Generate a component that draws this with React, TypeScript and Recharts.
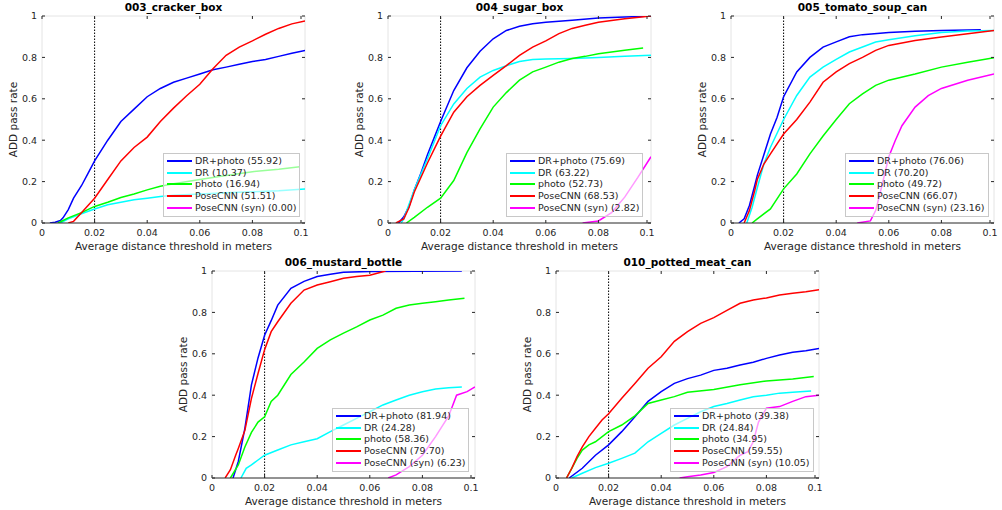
import React from 'react';
import { LineChart, Line, XAxis, YAxis, ReferenceLine, Legend } from 'recharts';

// object names and method legend labels
const OBJECTS = ['003_cracker_box', '004_sugar_box', '005_tomato_soup_can', '006_mustard_bottle', '010_potted_meat_can'];
const METHODS = ['DR+photo', 'DR', 'photo', 'PoseCNN', 'PoseCNN (syn)'];
const METHOD_COLORS = ['#0000ff', '#00ffff', '#00ff00', '#ff0000', '#ff00ff'];

// AUC scores shown in the legends, one list per object (same order as METHODS)
const SCORES_CRACKER = ['55.92', '10.37', '16.94', '51.51', '0.00'];
const SCORES_SUGAR = ['75.69', '63.22', '52.73', '68.53', '2.82'];
const SCORES_TOMATO = ['76.06', '70.20', '49.72', '66.07', '23.16'];
const SCORES_MUSTARD = ['81.94', '24.28', '58.36', '79.70', '6.23'];
const SCORES_POTTED = ['39.38', '24.84', '34.95', '59.55', '10.05'];

const THRESH_TICKS = [0, 0.02, 0.04, 0.06, 0.08, 0.1];
const RATE_TICKS = [0, 0.2, 0.4, 0.6, 0.8, 1];

// [threshold, pass rate]
const CRACKER_DR_PHOTO = [[0.003, 0], [0.005, 0.004], [0.007, 0.012], [0.008, 0.025], [0.01, 0.065], [0.012, 0.12], [0.015, 0.18], [0.0175, 0.24], [0.02, 0.3], [0.025, 0.4], [0.03, 0.49], [0.035, 0.55], [0.04, 0.61], [0.045, 0.65], [0.05, 0.68], [0.055, 0.7], [0.06, 0.72], [0.065, 0.74], [0.07, 0.753], [0.075, 0.767], [0.08, 0.78], [0.085, 0.79], [0.09, 0.805], [0.095, 0.82], [0.1, 0.834]];
const CRACKER_DR = [[0.007, 0], [0.01, 0.02], [0.015, 0.045], [0.02, 0.068], [0.025, 0.088], [0.03, 0.1], [0.035, 0.112], [0.04, 0.12], [0.045, 0.128], [0.05, 0.134], [0.06, 0.14], [0.07, 0.146], [0.08, 0.151], [0.09, 0.156], [0.1, 0.164]];
const CRACKER_PHOTO = [[0.006, 0], [0.008, 0.012], [0.01, 0.025], [0.015, 0.05], [0.02, 0.08], [0.025, 0.1], [0.03, 0.123], [0.035, 0.14], [0.04, 0.16], [0.045, 0.178], [0.05, 0.19], [0.06, 0.21], [0.07, 0.23], [0.08, 0.248], [0.09, 0.26], [0.098, 0.272]];
const CRACKER_POSECNN = [[0.01, 0], [0.012, 0.008], [0.015, 0.05], [0.0175, 0.085], [0.02, 0.12], [0.025, 0.21], [0.03, 0.3], [0.035, 0.365], [0.04, 0.415], [0.045, 0.49], [0.05, 0.555], [0.055, 0.615], [0.06, 0.67], [0.065, 0.745], [0.07, 0.81], [0.075, 0.85], [0.08, 0.88], [0.085, 0.912], [0.09, 0.94], [0.095, 0.962], [0.1, 0.976]];
const CRACKER_SYN: number[][] = [];

const SUGAR_DR_PHOTO = [[0.004, 0], [0.006, 0.03], [0.008, 0.08], [0.01, 0.16], [0.0125, 0.24], [0.015, 0.33], [0.0175, 0.41], [0.02, 0.49], [0.025, 0.64], [0.03, 0.75], [0.035, 0.83], [0.04, 0.89], [0.045, 0.93], [0.05, 0.95], [0.055, 0.963], [0.06, 0.97], [0.07, 0.98], [0.08, 0.99], [0.09, 0.995], [0.1, 1]];
const SUGAR_DR = [[0.005, 0], [0.006, 0.02], [0.008, 0.09], [0.01, 0.16], [0.015, 0.31], [0.02, 0.47], [0.025, 0.575], [0.03, 0.65], [0.035, 0.705], [0.04, 0.737], [0.045, 0.76], [0.05, 0.78], [0.055, 0.79], [0.06, 0.792], [0.07, 0.795], [0.08, 0.8], [0.09, 0.805], [0.1, 0.81]];
const SUGAR_PHOTO = [[0.007, 0], [0.01, 0.027], [0.015, 0.076], [0.02, 0.12], [0.025, 0.205], [0.03, 0.34], [0.035, 0.455], [0.04, 0.56], [0.045, 0.63], [0.05, 0.69], [0.055, 0.73], [0.06, 0.753], [0.065, 0.777], [0.07, 0.795], [0.075, 0.805], [0.08, 0.818], [0.09, 0.834], [0.097, 0.845]];
const SUGAR_POSECNN = [[0.003, 0], [0.006, 0.02], [0.008, 0.075], [0.01, 0.15], [0.015, 0.29], [0.02, 0.42], [0.025, 0.535], [0.03, 0.61], [0.035, 0.665], [0.04, 0.713], [0.045, 0.76], [0.05, 0.81], [0.055, 0.85], [0.06, 0.88], [0.065, 0.915], [0.07, 0.94], [0.075, 0.955], [0.08, 0.97], [0.09, 0.987], [0.1, 1]];
const SUGAR_SYN = [[0.074, 0], [0.08, 0.01], [0.085, 0.05], [0.09, 0.125], [0.095, 0.22], [0.1, 0.32]];

const TOMATO_DR_PHOTO = [[0.003, 0], [0.005, 0.02], [0.007, 0.085], [0.009, 0.18], [0.01, 0.23], [0.0125, 0.33], [0.015, 0.43], [0.0175, 0.51], [0.02, 0.61], [0.025, 0.73], [0.03, 0.8], [0.035, 0.85], [0.04, 0.875], [0.045, 0.9], [0.05, 0.91], [0.06, 0.92], [0.07, 0.926], [0.08, 0.93], [0.095, 0.934]];
const TOMATO_DR = [[0.006, 0], [0.008, 0.075], [0.01, 0.17], [0.0125, 0.285], [0.015, 0.366], [0.02, 0.5], [0.025, 0.616], [0.03, 0.705], [0.035, 0.753], [0.04, 0.79], [0.045, 0.826], [0.05, 0.85], [0.055, 0.874], [0.06, 0.885], [0.07, 0.905], [0.08, 0.92], [0.09, 0.927], [0.1, 0.93]];
const TOMATO_PHOTO = [[0.008, 0], [0.01, 0.02], [0.015, 0.068], [0.02, 0.165], [0.025, 0.237], [0.03, 0.334], [0.035, 0.42], [0.04, 0.5], [0.045, 0.576], [0.05, 0.624], [0.055, 0.665], [0.06, 0.69], [0.07, 0.72], [0.08, 0.753], [0.09, 0.777], [0.1, 0.798]];
const TOMATO_POSECNN = [[0.005, 0], [0.007, 0.06], [0.009, 0.156], [0.01, 0.21], [0.0125, 0.285], [0.015, 0.334], [0.02, 0.43], [0.025, 0.5], [0.03, 0.584], [0.035, 0.68], [0.04, 0.73], [0.045, 0.77], [0.05, 0.8], [0.055, 0.834], [0.06, 0.858], [0.07, 0.882], [0.08, 0.898], [0.09, 0.914], [0.1, 0.93]];
const TOMATO_SYN = [[0.048, 0], [0.053, 0.01], [0.055, 0.06], [0.057, 0.16], [0.06, 0.32], [0.0625, 0.4], [0.065, 0.47], [0.07, 0.56], [0.075, 0.615], [0.08, 0.65], [0.09, 0.69], [0.1, 0.72]];

const MUSTARD_DR_PHOTO = [[0.008, 0], [0.009, 0.04], [0.01, 0.08], [0.0125, 0.24], [0.015, 0.45], [0.0175, 0.58], [0.02, 0.69], [0.0225, 0.76], [0.025, 0.835], [0.03, 0.916], [0.035, 0.95], [0.04, 0.973], [0.045, 0.984], [0.05, 0.994], [0.06, 0.998], [0.095, 1]];
const MUSTARD_DR = [[0.011, 0], [0.013, 0.047], [0.015, 0.063], [0.0175, 0.087], [0.02, 0.11], [0.025, 0.135], [0.03, 0.16], [0.035, 0.175], [0.04, 0.19], [0.045, 0.224], [0.05, 0.256], [0.055, 0.288], [0.06, 0.32], [0.065, 0.353], [0.07, 0.377], [0.075, 0.4], [0.08, 0.417], [0.085, 0.43], [0.09, 0.436], [0.095, 0.44]];
const MUSTARD_PHOTO = [[0.007, 0], [0.01, 0.063], [0.0125, 0.15], [0.015, 0.22], [0.0175, 0.27], [0.02, 0.296], [0.0225, 0.37], [0.025, 0.4], [0.03, 0.5], [0.035, 0.56], [0.04, 0.626], [0.045, 0.667], [0.05, 0.7], [0.055, 0.73], [0.06, 0.763], [0.065, 0.787], [0.07, 0.82], [0.075, 0.836], [0.08, 0.844], [0.085, 0.852], [0.09, 0.86], [0.096, 0.868]];
const MUSTARD_POSECNN = [[0.005, 0], [0.007, 0.04], [0.009, 0.11], [0.01, 0.143], [0.0125, 0.23], [0.015, 0.385], [0.0175, 0.505], [0.02, 0.62], [0.0225, 0.707], [0.025, 0.755], [0.03, 0.844], [0.035, 0.908], [0.04, 0.932], [0.045, 0.948], [0.05, 0.965], [0.055, 0.973], [0.06, 0.98], [0.066, 1]];
const MUSTARD_SYN = [[0.067, 0], [0.07, 0.015], [0.075, 0.055], [0.08, 0.11], [0.085, 0.2], [0.09, 0.3], [0.093, 0.4], [0.097, 0.417], [0.1, 0.44]];

const POTTED_DR_PHOTO = [[0.005, 0], [0.01, 0.047], [0.015, 0.11], [0.02, 0.16], [0.025, 0.224], [0.03, 0.296], [0.035, 0.37], [0.04, 0.417], [0.045, 0.457], [0.05, 0.48], [0.055, 0.497], [0.06, 0.52], [0.065, 0.53], [0.07, 0.546], [0.075, 0.559], [0.08, 0.578], [0.085, 0.594], [0.09, 0.607], [0.095, 0.615], [0.1, 0.626]];
const POTTED_DR = [[0.006, 0], [0.01, 0.023], [0.015, 0.05], [0.02, 0.071], [0.025, 0.095], [0.03, 0.12], [0.035, 0.175], [0.04, 0.216], [0.045, 0.256], [0.05, 0.288], [0.055, 0.32], [0.06, 0.345], [0.065, 0.36], [0.07, 0.377], [0.075, 0.393], [0.08, 0.4], [0.085, 0.41], [0.09, 0.414], [0.097, 0.42]];
const POTTED_PHOTO = [[0.004, 0], [0.006, 0.047], [0.008, 0.095], [0.01, 0.135], [0.0125, 0.16], [0.015, 0.175], [0.02, 0.224], [0.025, 0.256], [0.03, 0.3], [0.035, 0.36], [0.04, 0.377], [0.045, 0.393], [0.05, 0.414], [0.06, 0.428], [0.07, 0.45], [0.08, 0.469], [0.09, 0.478], [0.098, 0.49]];
const POTTED_POSECNN = [[0.004, 0], [0.006, 0.047], [0.008, 0.103], [0.01, 0.15], [0.0125, 0.2], [0.015, 0.24], [0.0175, 0.28], [0.02, 0.31], [0.025, 0.385], [0.03, 0.457], [0.035, 0.53], [0.04, 0.586], [0.045, 0.66], [0.05, 0.707], [0.055, 0.747], [0.06, 0.775], [0.065, 0.81], [0.07, 0.844], [0.075, 0.86], [0.08, 0.87], [0.085, 0.884], [0.09, 0.892], [0.095, 0.9], [0.1, 0.91]];
const POTTED_SYN = [[0.047, 0], [0.05, 0.006], [0.055, 0.015], [0.06, 0.027], [0.065, 0.055], [0.07, 0.11], [0.073, 0.127], [0.075, 0.175], [0.077, 0.27], [0.08, 0.337], [0.085, 0.345], [0.09, 0.37], [0.095, 0.393], [0.1, 0.4]];

const SERIES = [
    [CRACKER_DR_PHOTO, CRACKER_DR, CRACKER_PHOTO, CRACKER_POSECNN, CRACKER_SYN],
    [SUGAR_DR_PHOTO, SUGAR_DR, SUGAR_PHOTO, SUGAR_POSECNN, SUGAR_SYN],
    [TOMATO_DR_PHOTO, TOMATO_DR, TOMATO_PHOTO, TOMATO_POSECNN, TOMATO_SYN],
    [MUSTARD_DR_PHOTO, MUSTARD_DR, MUSTARD_PHOTO, MUSTARD_POSECNN, MUSTARD_SYN],
    [POTTED_DR_PHOTO, POTTED_DR, POTTED_PHOTO, POTTED_POSECNN, POTTED_SYN],
];
const SCORES = [SCORES_CRACKER, SCORES_SUGAR, SCORES_TOMATO, SCORES_MUSTARD, SCORES_POTTED];

// layout (pixels): where each axes box sits on the page
const PLOT_W = 263;
const PLOT_H = 207;
const PANEL_LEFT = [42, 388, 731, 212, 556];
const PANEL_TOP = [16, 16, 16, 271, 271];
const LEGEND_LEFT = [121, 118, 114, 120, 114];
const YW = 45;
const MT = 20;
const MR = 6;
const XH = 34;
const CW = YW + PLOT_W + MR;
const CH = MT + PLOT_H + XH;

const FONT = '"DejaVu Sans", sans-serif';
const INK = '#262626';

const fmt = (v: number) => String(v);

const XTick = (props: any) => {
    const { x, y, payload } = props;
    return (
        <g>
            <line x1={x} x2={x} y1={y} y2={y - 3} stroke={INK} />
            <line x1={x} x2={x} y1={y - PLOT_H} y2={y - PLOT_H + 3} stroke={INK} />
            <text x={x} y={y + 13} textAnchor="middle" fontSize={9.5} fontFamily={FONT} fill={INK}>
                {fmt(payload.value)}
            </text>
        </g>
    );
};

const YTick = (props: any) => {
    const { x, y, payload } = props;
    return (
        <g>
            <line x1={x} x2={x + 3} y1={y} y2={y} stroke={INK} />
            <line x1={x + PLOT_W - 3} x2={x + PLOT_W} y1={y} y2={y} stroke={INK} />
            <text x={x - 5} y={y} dy="0.35em" textAnchor="end" fontSize={9.5} fontFamily={FONT} fill={INK}>
                {fmt(payload.value)}
            </text>
        </g>
    );
};

const yLabel = () => (
    <text
        x={YW - 29}
        y={MT + PLOT_H / 2}
        transform={`rotate(-90, ${YW - 29}, ${MT + PLOT_H / 2})`}
        textAnchor="middle"
        dominantBaseline="central"
        fontSize={10.5}
        fontFamily={FONT}
        fill={INK}
    >
        ADD pass rate
    </text>
);

const xLabel = () => (
    <text x={YW + PLOT_W / 2} y={MT + PLOT_H + 27} textAnchor="middle" fontSize={10.5} fontFamily={FONT} fill={INK}>
        Average distance threshold in meters
    </text>
);

const LegendBox = ({ payload, labels }: { payload?: any[]; labels: string[] }) => {
    const items = [...(payload ?? [])].sort((a, b) => labels.indexOf(a.value) - labels.indexOf(b.value));
    return (
        <div
            style={{
                border: '1px solid #c8c8c8',
                background: 'rgba(255,255,255,0.6)',
                padding: '1px 3px 2px 2px',
                fontFamily: FONT,
                fontSize: 9.5,
                lineHeight: '11.7px',
                color: INK,
            }}
        >
            {items.map((entry) => (
                <div key={entry.value} style={{ display: 'flex', alignItems: 'center', whiteSpace: 'nowrap' }}>
                    <svg width={27} height={4} style={{ flex: 'none' }}>
                        <line x1={1} x2={26} y1={2} y2={2} stroke={entry.color} strokeWidth={2} />
                    </svg>
                    <span style={{ marginLeft: 2 }}>{entry.value}</span>
                </div>
            ))}
        </div>
    );
};

function Panel({ index }: { index: number }) {
    const series = SERIES[index];
    const scores = SCORES[index];
    const labels = METHODS.map((m, i) => `${m} (${scores[i]})`);
    return (
        <div style={{ position: 'absolute', left: PANEL_LEFT[index] - YW, top: PANEL_TOP[index] - MT, width: CW, height: CH }}>
            <LineChart width={CW} height={CH} margin={{ top: MT, right: MR, bottom: 0, left: 0 }}>
                <XAxis
                    type="number"
                    dataKey="x"
                    domain={[0, 0.1]}
                    ticks={THRESH_TICKS}
                    allowDataOverflow
                    height={XH}
                    tickSize={0}
                    tickMargin={0}
                    tickLine={false}
                    axisLine={{ stroke: INK }}
                    tick={<XTick />}
                    label={xLabel}
                />
                <YAxis
                    type="number"
                    dataKey="y"
                    domain={[0, 1]}
                    ticks={RATE_TICKS}
                    allowDataOverflow
                    width={YW}
                    tickSize={0}
                    tickMargin={0}
                    tickLine={false}
                    axisLine={{ stroke: '#e4e4e4' }}
                    tick={<YTick />}
                    label={yLabel}
                />
                <ReferenceLine y={1} stroke="#e4e4e4" />
                <ReferenceLine x={0.1} stroke="#e4e4e4" />
                <ReferenceLine x={0.02} stroke="#000" strokeDasharray="1.5 1.5" />
                {series.map((pairs, i) => (
                    <Line
                        key={METHODS[i]}
                        data={pairs.map(([x, y]) => ({ x, y }))}
                        dataKey="y"
                        name={labels[i]}
                        type="linear"
                        stroke={METHOD_COLORS[i]}
                        strokeWidth={1.5}
                        dot={false}
                        activeDot={false}
                        isAnimationActive={false}
                    />
                ))}
                <Legend
                    layout="vertical"
                    align="center"
                    verticalAlign="middle"
                    wrapperStyle={{ left: YW + LEGEND_LEFT[index], top: MT + 137, width: 'auto', height: 'auto' }}
                    content={(p: any) => <LegendBox payload={p.payload} labels={labels} />}
                />
            </LineChart>
            <div
                style={{
                    position: 'absolute',
                    left: YW,
                    top: MT - 15,
                    width: PLOT_W,
                    textAlign: 'center',
                    fontFamily: FONT,
                    fontWeight: 'bold',
                    fontSize: 10.5,
                    lineHeight: '12px',
                    color: '#000',
                }}
            >
                {OBJECTS[index]}
            </div>
        </div>
    );
}

export default function App() {
    return (
        <div style={{ position: 'absolute', left: 0, top: 0, width: 1002, height: 510, background: '#fff' }}>
            {OBJECTS.map((name, i) => (
                <Panel key={name} index={i} />
            ))}
        </div>
    );
}
